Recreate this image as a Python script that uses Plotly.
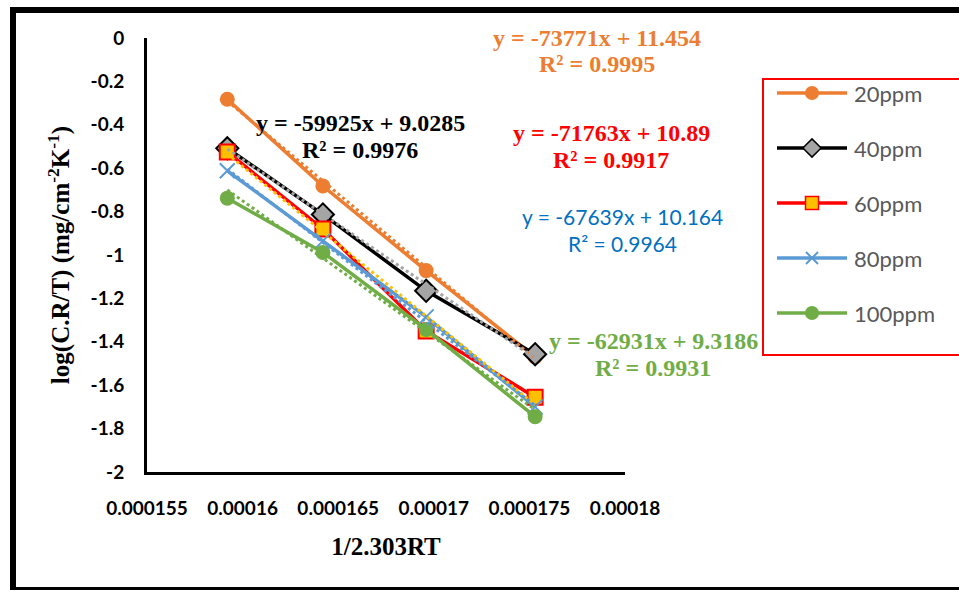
import plotly.graph_objects as go

# 1/(2.303RT) for the four test temperatures
inv_2303RT = [0.0001592, 0.0001642, 0.0001696, 0.0001753]

# log(C.R/T) for each inhibitor concentration
conc_labels = ["20ppm", "40ppm", "60ppm", "80ppm", "100ppm"]
log_cr_20 = [-0.282, -0.682, -1.072, -1.470]
log_cr_40 = [-0.508, -0.813, -1.165, -1.457]
log_cr_60 = [-0.525, -0.880, -1.350, -1.655]
log_cr_80 = [-0.612, -0.935, -1.285, -1.700]
log_cr_100 = [-0.738, -0.988, -1.343, -1.745]

# Linear fit coefficients (slope, intercept, R²)
fit_slopes = [-73771, -59925, -71763, -67639, -62931]
fit_intercepts = [11.454, 9.0285, 10.89, 10.164, 9.3186]
fit_r2 = ["0.9995", "0.9976", "0.9917", "0.9964", "0.9931"]

x_ticks = [0.000155, 0.00016, 0.000165, 0.00017, 0.000175, 0.00018]
x_tick_text = ["0.000155", "0.00016", "0.000165", "0.00017", "0.000175", "0.00018"]
y_ticks = [0, -0.2, -0.4, -0.6, -0.8, -1, -1.2, -1.4, -1.6, -1.8, -2]
y_tick_text = ["0", "-0.2", "-0.4", "-0.6", "-0.8", "-1", "-1.2", "-1.4", "-1.6", "-1.8", "-2"]

series_values = [log_cr_20, log_cr_40, log_cr_60, log_cr_80, log_cr_100]

W, H = 959, 590


def px(x):
    return x / W


def py(y):
    return 1 - y / H


line_colors = ["#ED7D31", "#000000", "#FF0000", "#5B9BD5", "#70AD47"]
trend_colors = ["#ED7D31", "#A5A5A5", "#FFC000", "#5B9BD5", "#70AD47"]
markers = [
    dict(symbol="circle", size=15, color="#ED7D31", line=dict(width=0)),
    dict(symbol="diamond", size=17, color="#A5A5A5", line=dict(width=2, color="#000000")),
    dict(symbol="square", size=15, color="#FFC000", line=dict(width=2, color="#FF0000")),
    dict(symbol="x-thin", size=15, color="#5B9BD5", line=dict(width=2, color="#5B9BD5")),
    dict(symbol="circle", size=15, color="#70AD47", line=dict(width=0)),
]
legend_markers = [
    dict(symbol="circle", size=14, color="#ED7D31", line=dict(width=0)),
    dict(symbol="diamond", size=14, color="#A5A5A5", line=dict(width=1.5, color="#000000")),
    dict(symbol="square", size=13, color="#FFC000", line=dict(width=1.5, color="#FF0000")),
    dict(symbol="x-thin", size=12, color="#5B9BD5", line=dict(width=2, color="#5B9BD5")),
    dict(symbol="circle", size=14, color="#70AD47", line=dict(width=0)),
]

fig = go.Figure()

# measured series
for name, vals, col, mk in zip(conc_labels, series_values, line_colors, markers):
    fig.add_trace(go.Scatter(
        x=inv_2303RT, y=vals, mode="lines+markers", name=name,
        line=dict(color=col, width=3.5), marker=mk, showlegend=False,
    ))

# dotted linear trendlines over the data range
x0, x1 = inv_2303RT[0], inv_2303RT[-1]
for m, b, col in zip(fit_slopes, fit_intercepts, trend_colors):
    fig.add_trace(go.Scatter(
        x=[x0, x1], y=[m * x0 + b, m * x1 + b], mode="lines",
        line=dict(color=col, width=3, dash="dot"), showlegend=False,
        hoverinfo="skip",
    ))

# legend drawn on a full-page pixel axis
legend_rows = [93, 148, 203, 258, 313]
for name, col, mk, yrow in zip(conc_labels, line_colors, legend_markers, legend_rows):
    fig.add_trace(go.Scatter(
        x=[777, 847], y=[yrow, yrow], mode="lines",
        line=dict(color=col, width=3.5), xaxis="x2", yaxis="y2",
        showlegend=False, hoverinfo="skip",
    ))
    fig.add_trace(go.Scatter(
        x=[812], y=[yrow], mode="markers", marker=mk, xaxis="x2", yaxis="y2",
        showlegend=False, hoverinfo="skip",
    ))
    fig.add_annotation(
        x=px(852), y=py(yrow), xref="paper", yref="paper", text=name, showarrow=False,
        xanchor="left", yanchor="middle",
        font=dict(family="Lato", size=22, color="#595959"),
    )

# fit equations: (centre x, equation line y, R² line y, colour, font, bold)
eq_specs = [
    (597, 38, 64, "#ED7D31", "Liberation Serif", True),
    (360, 123, 150, "#000000", "Liberation Serif", True),
    (611, 133, 160, "#FF0000", "Liberation Serif", True),
    (622, 216, 243, "#0070C0", "Lato", False),
    (653, 341, 368, "#70AD47", "Liberation Serif", True),
]
for (cx, ya, yb, col, fam, bold), m, b, r2 in zip(eq_specs, fit_slopes, fit_intercepts, fit_r2):
    for yy, txt in ((ya, f"y = {m}x + {b}"), (yb, f"R² = {r2}")):
        if bold:
            txt = f"<b>{txt}</b>"
        fig.add_annotation(
            x=px(cx), y=py(yy), xref="paper", yref="paper", text=txt, showarrow=False,
            xanchor="center", yanchor="middle", align="center",
            font=dict(family=fam, size=24 if bold else 21, color=col),
        )

# legend frame and outer chart border
fig.add_shape(type="rect", x0=px(763), y0=py(79), x1=px(975), y1=py(355),
              xref="paper", yref="paper", line=dict(color="#FF0000", width=2))
fig.add_shape(type="rect", x0=px(13), y0=py(10), x1=px(975), y1=py(590),
              xref="paper", yref="paper", line=dict(color="#000000", width=6))

x_left, x_right = 147, 625
y_top, y_bot = 38, 472

fig.update_layout(
    width=W, height=H,
    margin=dict(l=0, r=0, t=0, b=0, autoexpand=False),
    paper_bgcolor="white", plot_bgcolor="rgba(0,0,0,0)",
    showlegend=False,
    xaxis=dict(
        domain=[px(x_left), px(x_right)], range=[0.000155, 0.00018],
        tickvals=x_ticks, ticktext=x_tick_text, showgrid=False, zeroline=False,
        showline=True, linecolor="#000000", linewidth=3, ticks="",
        automargin=False, ticklabelstandoff=17,
        tickfont=dict(family="Lato", size=19, color="#000000", weight="bold"),
        title=dict(text="<b>1/2.303RT</b>", standoff=20,
                   font=dict(family="Liberation Serif", size=25, color="#000000")),
    ),
    yaxis=dict(
        domain=[py(y_bot), py(y_top)], range=[-2, 0],
        tickvals=y_ticks, ticktext=y_tick_text, showgrid=False, zeroline=False,
        showline=True, linecolor="#000000", linewidth=3, ticks="",
        automargin=False, ticklabelstandoff=16,
        tickfont=dict(family="Lato", size=19, color="#000000", weight="bold"),
        title=dict(text="<b>log(C.R/T) (mg/cm<sup>-2</sup>K<sup>-1</sup>)</b>", standoff=14,
                   font=dict(family="Liberation Serif", size=25, color="#000000")),
    ),
    xaxis2=dict(domain=[0, 1], range=[0, W], visible=False, fixedrange=True,
                anchor="y2", automargin=False),
    yaxis2=dict(domain=[0, 1], range=[H, 0], visible=False, fixedrange=True,
                anchor="x2", automargin=False),
)

fig.write_html("out.html")
